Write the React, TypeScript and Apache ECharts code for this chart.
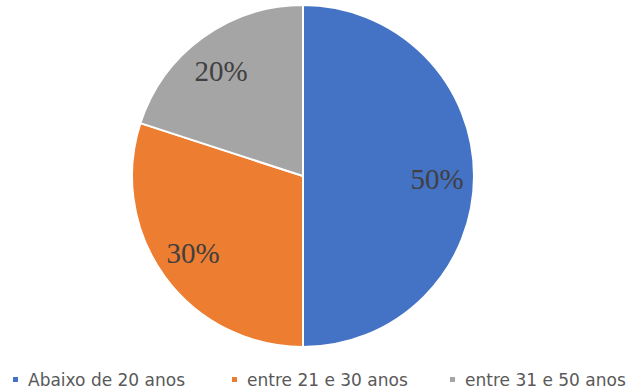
import React, { useEffect, useRef } from "react";
import * as echarts from "echarts";

const categories = ["Abaixo de 20 anos", "entre 21 e 30 anos", "entre 31 e 50 anos"];
const values = [50, 30, 20];
const labels = ["50%", "30%", "20%"];
const colors = ["#4472C4", "#ED7D31", "#A5A5A5"];

export default function App() {
  const ref = useRef<HTMLDivElement>(null);
  useEffect(() => {
    const chart = echarts.init(ref.current!, null, { renderer: "svg" });
    const data = categories.map((name, i) => ({ name, value: values[i], itemStyle: { color: colors[i] } }));
    const legendLefts = [11, 230, 448];
    const labelOffsets = [[-2, 3], [0, -3], [-2, 5]];
    chart.setOption({
      animation: false,
      backgroundColor: "#ffffff",
      legend: categories.map((name, i) => ({
        data: [name],
        left: legendLefts[i],
        top: 370,
        padding: 0,
        icon: "rect",
        itemWidth: 7,
        itemHeight: 7,
        itemGap: 0,
        textStyle: { fontFamily: "DejaVu Sans", fontSize: 17, lineHeight: 19, color: "#595959", padding: [0, 0, 0, 4] },
      })),
      series: [
        {
          type: "pie",
          center: [303, 176],
          radius: 171,
          startAngle: 90,
          clockwise: true,
          data,
          label: { show: false },
          labelLine: { show: false },
          itemStyle: { borderColor: "#ffffff", borderWidth: 2 },
          emphasis: { disabled: true },
        },
        {
          type: "pie",
          center: [303, 176],
          radius: [121, 145],
          startAngle: 90,
          clockwise: true,
          silent: true,
          data: categories.map((name, i) => ({
            name,
            value: values[i],
            itemStyle: { color: "transparent" },
            label: { offset: labelOffsets[i] },
          })),
          label: {
            show: true,
            position: "inside",
            formatter: (p: any) => labels[p.dataIndex],
            fontFamily: "Liberation Serif",
            fontSize: 29,
            color: "#404040",
          },
          labelLine: { show: false },
          emphasis: { disabled: true },
        },
      ],
    });
    return () => chart.dispose();
  }, []);
  return <div ref={ref} style={{ position: "fixed", left: 0, top: 0, width: 633, height: 391 }} />;
}
